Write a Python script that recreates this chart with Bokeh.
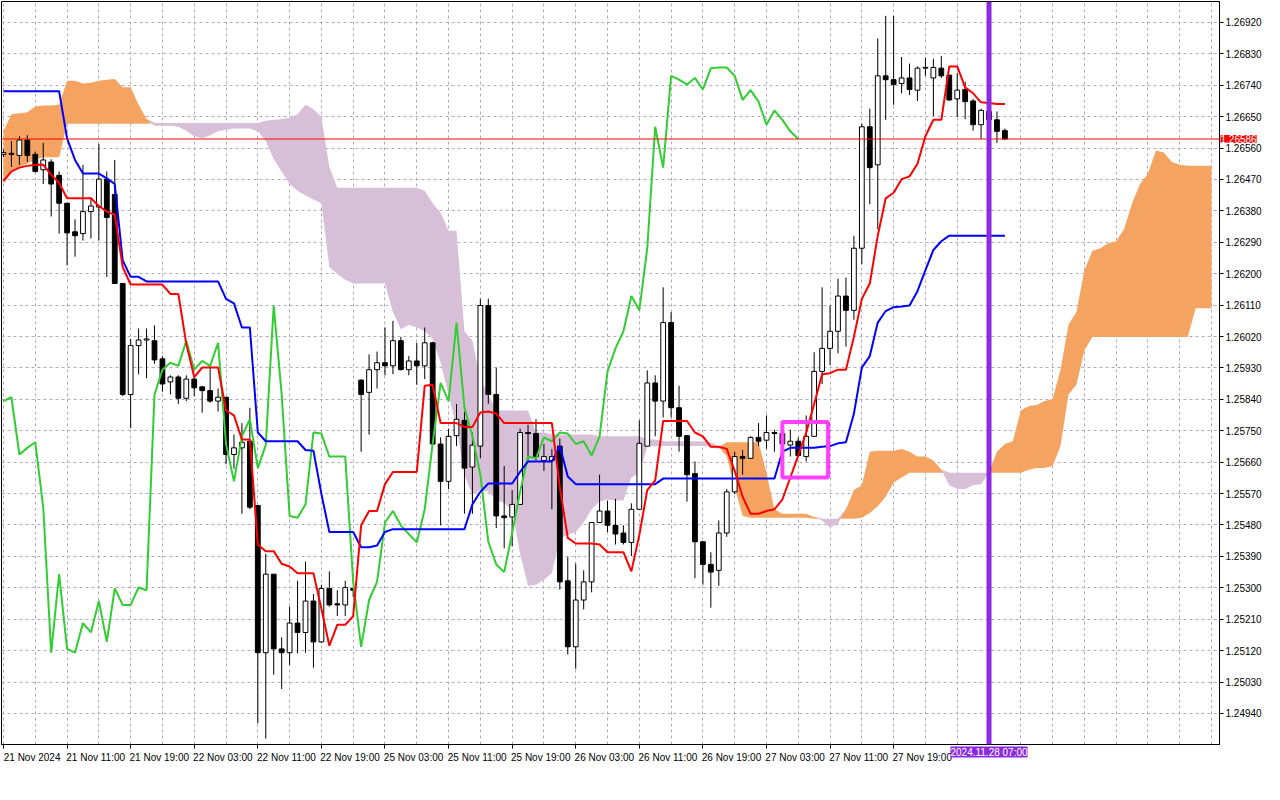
import numpy as np
from bokeh.plotting import figure
from bokeh.models import (Range1d, FixedTicker, Span, Label, BoxAnnotation,
                          ColumnDataSource, PrintfTickFormatter)
from bokeh.embed import file_html
from bokeh.resources import INLINE

# ---------------- data (H1 bars) ----------------
open_ = [
    1.26542, 1.26545, 1.26539, 1.26583, 1.26542, 1.26498, 1.26520, 1.26482, 1.26402, 1.26320,
    1.26315, 1.26378, 1.26391, 1.26471, 1.26427, 1.26172, 1.25854, 1.25994, 1.26010, 1.26008,
    1.25956, 1.25890, 1.25904, 1.25843, 1.25898, 1.25876, 1.25865, 1.25835, 1.25846, 1.25682,
    1.25701, 1.25720, 1.25536, 1.25114, 1.25339, 1.25125, 1.25114, 1.25199, 1.25172, 1.25262,
    1.25145, 1.25298, 1.25254, 1.25251, 1.25298, 1.25895, 1.25860, 1.25925, 1.25945, 1.25936,
    1.26008, 1.25925, 1.25950, 1.25936, 1.26002, 1.25712, 1.25605, 1.25736, 1.25780, 1.25646,
    1.25706, 1.26109, 1.25854, 1.25506, 1.25503, 1.25539, 1.25745, 1.25742, 1.25665, 1.25665,
    1.25706, 1.25320, 1.25131, 1.25265, 1.25317, 1.25487, 1.25520, 1.25479, 1.25457, 1.25430,
    1.25525, 1.25706, 1.25887, 1.25835, 1.26060, 1.25816, 1.25736, 1.25627, 1.25432, 1.25367,
    1.25350, 1.25457, 1.25575, 1.25676, 1.25671, 1.25731, 1.25723, 1.25745, 1.25742, 1.25709,
    1.25720, 1.25676, 1.25734, 1.25920, 1.25986, 1.26035, 1.26136, 1.26095, 1.26273, 1.26621,
    1.26512, 1.26767, 1.26756, 1.26745, 1.26761, 1.26726, 1.26789, 1.26761, 1.26789, 1.26769,
    1.26701, 1.26728, 1.26695, 1.26627, 1.26665, 1.26641, 1.26610]
high = [
    1.26556, 1.26580, 1.26594, 1.26597, 1.26550, 1.26575, 1.26528, 1.26493, 1.26402, 1.26356,
    1.26512, 1.26419, 1.26572, 1.26493, 1.26526, 1.26172, 1.26013, 1.26043, 1.26043, 1.26052,
    1.25964, 1.25909, 1.25909, 1.25909, 1.25909, 1.25876, 1.25936, 1.25871, 1.25846, 1.25739,
    1.25772, 1.25816, 1.25536, 1.25397, 1.25339, 1.25158, 1.25246, 1.25320, 1.25375, 1.25282,
    1.25309, 1.25347, 1.25293, 1.25320, 1.25301, 1.25898, 1.25969, 1.25977, 1.26046, 1.26065,
    1.26019, 1.25964, 1.26002, 1.26046, 1.26005, 1.25731, 1.25756, 1.25827, 1.25805, 1.25745,
    1.26128, 1.26128, 1.25931, 1.25649, 1.25580, 1.25756, 1.25767, 1.25783, 1.25712, 1.25698,
    1.25728, 1.25388, 1.25369, 1.25350, 1.25487, 1.25624, 1.25550, 1.25555, 1.25479, 1.25542,
    1.25780, 1.25923, 1.25909, 1.26161, 1.26090, 1.25879, 1.25736, 1.25662, 1.25432, 1.25402,
    1.25493, 1.25583, 1.25690, 1.25695, 1.25734, 1.25772, 1.25794, 1.25753, 1.25758, 1.25753,
    1.25731, 1.25794, 1.25975, 1.26161, 1.26109, 1.26186, 1.26189, 1.26309, 1.26630, 1.26673,
    1.26874, 1.26939, 1.26939, 1.26821, 1.26802, 1.26794, 1.26819, 1.26816, 1.26824, 1.26769,
    1.26775, 1.26750, 1.26701, 1.26673, 1.26673, 1.26665, 1.26616]
low = [
    1.26534, 1.26506, 1.26512, 1.26520, 1.26490, 1.26457, 1.26364, 1.26315, 1.26224, 1.26249,
    1.26295, 1.26301, 1.26295, 1.26191, 1.26172, 1.25849, 1.25758, 1.25912, 1.25901, 1.25942,
    1.25862, 1.25854, 1.25827, 1.25835, 1.25849, 1.25802, 1.25830, 1.25805, 1.25654, 1.25641,
    1.25512, 1.25525, 1.24912, 1.24868, 1.25051, 1.25010, 1.25079, 1.25112, 1.25114, 1.25071,
    1.25142, 1.25246, 1.25219, 1.25219, 1.25273, 1.25690, 1.25739, 1.25871, 1.25909, 1.25912,
    1.25923, 1.25909, 1.25882, 1.25898, 1.25709, 1.25479, 1.25583, 1.25706, 1.25512, 1.25512,
    1.25671, 1.25827, 1.25471, 1.25413, 1.25419, 1.25539, 1.25665, 1.25665, 1.25635, 1.25525,
    1.25295, 1.25109, 1.25068, 1.25238, 1.25287, 1.25487, 1.25460, 1.25424, 1.25424, 1.25391,
    1.25525, 1.25706, 1.25734, 1.25788, 1.25788, 1.25690, 1.25547, 1.25328, 1.25309, 1.25243,
    1.25306, 1.25446, 1.25569, 1.25624, 1.25671, 1.25706, 1.25698, 1.25690, 1.25704, 1.25676,
    1.25676, 1.25662, 1.25734, 1.25884, 1.25939, 1.25972, 1.25991, 1.26068, 1.26227, 1.26399,
    1.26328, 1.26641, 1.26684, 1.26717, 1.26712, 1.26695, 1.26767, 1.26652, 1.26761, 1.26695,
    1.26649, 1.26643, 1.26610, 1.26586, 1.26602, 1.26575, 1.26583]
close = [
    1.26547, 1.26542, 1.26583, 1.26539, 1.26493, 1.26526, 1.26457, 1.26402, 1.26317, 1.26309,
    1.26378, 1.26394, 1.26471, 1.26361, 1.26172, 1.25854, 1.25994, 1.26010, 1.26013, 1.25953,
    1.25884, 1.25904, 1.25843, 1.25898, 1.25873, 1.25865, 1.25835, 1.25846, 1.25682, 1.25701,
    1.25717, 1.25531, 1.25114, 1.25339, 1.25125, 1.25114, 1.25199, 1.25172, 1.25262, 1.25145,
    1.25298, 1.25251, 1.25251, 1.25301, 1.25293, 1.25854, 1.25925, 1.25945, 1.25936, 1.26008,
    1.25925, 1.25950, 1.25936, 1.26002, 1.25712, 1.25605, 1.25734, 1.25783, 1.25643, 1.25709,
    1.26109, 1.25854, 1.25506, 1.25501, 1.25539, 1.25745, 1.25742, 1.25676, 1.25676, 1.25676,
    1.25317, 1.25131, 1.25265, 1.25317, 1.25487, 1.25520, 1.25479, 1.25454, 1.25430, 1.25525,
    1.25714, 1.25887, 1.25835, 1.26060, 1.25816, 1.25734, 1.25624, 1.25432, 1.25367, 1.25345,
    1.25457, 1.25575, 1.25676, 1.25671, 1.25731, 1.25720, 1.25745, 1.25742, 1.25712, 1.25720,
    1.25679, 1.25734, 1.25920, 1.25986, 1.26035, 1.26136, 1.26095, 1.26273, 1.26621, 1.26504,
    1.26767, 1.26756, 1.26742, 1.26761, 1.26728, 1.26789, 1.26791, 1.26791, 1.26767, 1.26698,
    1.26726, 1.26693, 1.26627, 1.26668, 1.26641, 1.26608, 1.26586]

tenkan = [
    1.26465, 1.26493, 1.26504, 1.26509, 1.26512, 1.26512, 1.26484, 1.26460, 1.26416, 1.26416,
    1.26416, 1.26416, 1.26394, 1.26378, 1.26369, 1.26219, 1.26169, 1.26169, 1.26169, 1.26169,
    1.26169, 1.26142, 1.26142, 1.25999, 1.25904, 1.25931, 1.25931, 1.25931, 1.25808, 1.25794,
    1.25725, 1.25725, 1.25424, 1.25405, 1.25405, 1.25369, 1.25361, 1.25342, 1.25342, 1.25342,
    1.25240, 1.25134, 1.25194, 1.25194, 1.25219, 1.25479, 1.25520, 1.25520, 1.25597, 1.25632,
    1.25632, 1.25632, 1.25632, 1.25879, 1.25882, 1.25772, 1.25772, 1.25772, 1.25761, 1.25761,
    1.25802, 1.25805, 1.25799, 1.25772, 1.25772, 1.25772, 1.25772, 1.25772, 1.25772, 1.25772,
    1.25588, 1.25443, 1.25427, 1.25427, 1.25427, 1.25424, 1.25402, 1.25402, 1.25402, 1.25347,
    1.25451, 1.25580, 1.25608, 1.25778, 1.25778, 1.25778, 1.25778, 1.25745, 1.25734, 1.25704,
    1.25704, 1.25698, 1.25635, 1.25561, 1.25512, 1.25512, 1.25520, 1.25525, 1.25553, 1.25616,
    1.25679, 1.25745, 1.25827, 1.25912, 1.25915, 1.25925, 1.25925, 1.26019, 1.26128, 1.26172,
    1.26309, 1.26416, 1.26432, 1.26471, 1.26479, 1.26515, 1.26594, 1.26641, 1.26641, 1.26794,
    1.26794, 1.26734, 1.26717, 1.26691, 1.26689, 1.26686, 1.26686]
kijun = [
    1.26723, 1.26723, 1.26723, 1.26723, 1.26723, 1.26723, 1.26723, 1.26723, 1.26588, 1.26526,
    1.26487, 1.26487, 1.26487, 1.26473, 1.26457, 1.26238, 1.26191, 1.26191, 1.26178, 1.26178,
    1.26178, 1.26178, 1.26178, 1.26178, 1.26178, 1.26178, 1.26178, 1.26178, 1.26128, 1.26115,
    1.26046, 1.26046, 1.25745, 1.25720, 1.25720, 1.25720, 1.25720, 1.25720, 1.25695, 1.25693,
    1.25569, 1.25460, 1.25460, 1.25460, 1.25460, 1.25416, 1.25416, 1.25421, 1.25460, 1.25468,
    1.25468, 1.25468, 1.25468, 1.25468, 1.25468, 1.25468, 1.25468, 1.25468, 1.25468, 1.25539,
    1.25575, 1.25599, 1.25599, 1.25599, 1.25599, 1.25632, 1.25662, 1.25662, 1.25662, 1.25662,
    1.25706, 1.25619, 1.25597, 1.25597, 1.25597, 1.25597, 1.25597, 1.25597, 1.25597, 1.25597,
    1.25597, 1.25597, 1.25597, 1.25613, 1.25613, 1.25613, 1.25613, 1.25613, 1.25613, 1.25613,
    1.25613, 1.25613, 1.25613, 1.25613, 1.25613, 1.25613, 1.25613, 1.25613, 1.25690, 1.25701,
    1.25701, 1.25701, 1.25701, 1.25704, 1.25706, 1.25714, 1.25717, 1.25799, 1.25931, 1.25964,
    1.26060, 1.26093, 1.26104, 1.26106, 1.26109, 1.26150, 1.26210, 1.26268, 1.26293, 1.26309,
    1.26309, 1.26309, 1.26309, 1.26309, 1.26309, 1.26309, 1.26309]
chikou = [
    1.25835, 1.25846, 1.25682, 1.25701, 1.25717, 1.25531, 1.25114, 1.25339, 1.25125, 1.25114,
    1.25199, 1.25172, 1.25262, 1.25145, 1.25298, 1.25251, 1.25251, 1.25301, 1.25293, 1.25854,
    1.25925, 1.25945, 1.25936, 1.26008, 1.25925, 1.25950, 1.25936, 1.26002, 1.25712, 1.25605,
    1.25734, 1.25783, 1.25643, 1.25709, 1.26109, 1.25854, 1.25506, 1.25501, 1.25539, 1.25745,
    1.25742, 1.25676, 1.25676, 1.25676, 1.25317, 1.25131, 1.25265, 1.25317, 1.25487, 1.25520,
    1.25479, 1.25454, 1.25430, 1.25525, 1.25714, 1.25887, 1.25835, 1.26060, 1.25816, 1.25734,
    1.25624, 1.25432, 1.25367, 1.25345, 1.25457, 1.25575, 1.25676, 1.25671, 1.25731, 1.25720,
    1.25745, 1.25742, 1.25712, 1.25720, 1.25679, 1.25734, 1.25920, 1.25986, 1.26035, 1.26136,
    1.26095, 1.26273, 1.26621, 1.26504, 1.26767, 1.26756, 1.26742, 1.26761, 1.26728, 1.26789,
    1.26791, 1.26791, 1.26767, 1.26698, 1.26726, 1.26693, 1.26627, 1.26668, 1.26641, 1.26608,
    1.26586]
span_a = [
    1.26610, 1.26657, 1.26660, 1.26663, 1.26679, 1.26682, 1.26682, 1.26684, 1.26753, 1.26753,
    1.26745, 1.26747, 1.26753, 1.26756, 1.26758, 1.26734, 1.26734, 1.26684, 1.26643, 1.26624,
    1.26624, 1.26624, 1.26621, 1.26610, 1.26594, 1.26588, 1.26597, 1.26608, 1.26613, 1.26616,
    1.26616, 1.26616, 1.26608, 1.26580, 1.26528, 1.26493, 1.26457, 1.26438, 1.26424, 1.26413,
    1.26402, 1.26219, 1.26199, 1.26183, 1.26172, 1.26172, 1.26172, 1.26172, 1.26172, 1.26090,
    1.26041, 1.26054, 1.26046, 1.26035, 1.26013, 1.25945, 1.25854, 1.25761, 1.25624, 1.25566,
    1.25580, 1.25575, 1.25553, 1.25542, 1.25525, 1.25397, 1.25306, 1.25309, 1.25323, 1.25342,
    1.25443, 1.25451, 1.25460, 1.25487, 1.25525, 1.25547, 1.25553, 1.25550, 1.25550, 1.25616,
    1.25630, 1.25704, 1.25706, 1.25706, 1.25706, 1.25706, 1.25706, 1.25706, 1.25706, 1.25704,
    1.25698, 1.25717, 1.25717, 1.25717, 1.25717, 1.25717, 1.25630, 1.25525, 1.25512, 1.25512,
    1.25512, 1.25512, 1.25503, 1.25493, 1.25473, 1.25484, 1.25525, 1.25580, 1.25594, 1.25690,
    1.25693, 1.25693, 1.25693, 1.25698, 1.25690, 1.25676, 1.25676, 1.25665, 1.25638, 1.25594,
    1.25583, 1.25583, 1.25594, 1.25597, 1.25630, 1.25690, 1.25712, 1.25720, 1.25808, 1.25821,
    1.25824, 1.25835, 1.25841, 1.25925, 1.26054, 1.26090, 1.26210, 1.26265, 1.26273, 1.26287,
    1.26293, 1.26328, 1.26402, 1.26457, 1.26487, 1.26553, 1.26547, 1.26520, 1.26512, 1.26509,
    1.26509, 1.26509, 1.26509]
span_b = [
    1.26457, 1.26498, 1.26506, 1.26515, 1.26528, 1.26534, 1.26534, 1.26534, 1.26630, 1.26630,
    1.26630, 1.26630, 1.26630, 1.26630, 1.26630, 1.26630, 1.26630, 1.26630, 1.26630, 1.26632,
    1.26632, 1.26632, 1.26632, 1.26632, 1.26632, 1.26632, 1.26632, 1.26632, 1.26632, 1.26632,
    1.26632, 1.26632, 1.26632, 1.26638, 1.26641, 1.26643, 1.26646, 1.26657, 1.26684, 1.26671,
    1.26649, 1.26506, 1.26446, 1.26446, 1.26446, 1.26446, 1.26446, 1.26446, 1.26446, 1.26446,
    1.26446, 1.26446, 1.26446, 1.26438, 1.26402, 1.26375, 1.26323, 1.26323, 1.26035, 1.26008,
    1.25898, 1.25854, 1.25808, 1.25808, 1.25808, 1.25808, 1.25808, 1.25745, 1.25745, 1.25739,
    1.25739, 1.25739, 1.25739, 1.25739, 1.25739, 1.25734, 1.25734, 1.25734, 1.25734, 1.25734,
    1.25734, 1.25725, 1.25725, 1.25720, 1.25720, 1.25720, 1.25720, 1.25720, 1.25720, 1.25717,
    1.25704, 1.25676, 1.25588, 1.25506, 1.25501, 1.25501, 1.25501, 1.25501, 1.25501, 1.25501,
    1.25501, 1.25501, 1.25498, 1.25498, 1.25498, 1.25498, 1.25498, 1.25498, 1.25501, 1.25514,
    1.25534, 1.25561, 1.25602, 1.25616, 1.25630, 1.25630, 1.25630, 1.25630, 1.25630, 1.25630,
    1.25630, 1.25630, 1.25630, 1.25630, 1.25630, 1.25630, 1.25630, 1.25630, 1.25630, 1.25638,
    1.25643, 1.25643, 1.25649, 1.25706, 1.25854, 1.25882, 1.25980, 1.26019, 1.26019, 1.26019,
    1.26019, 1.26019, 1.26019, 1.26019, 1.26019, 1.26019, 1.26019, 1.26019, 1.26019, 1.26019,
    1.26101, 1.26101, 1.26101]

tick_positions = [0, 8, 16, 24, 32, 40, 48, 56, 64, 72, 80, 88, 96, 104, 112]
tick_labels = ["21 Nov 2024", "21 Nov 11:00", "21 Nov 19:00", "22 Nov 03:00", "22 Nov 11:00",
               "22 Nov 19:00", "25 Nov 03:00", "25 Nov 11:00", "25 Nov 19:00", "26 Nov 03:00",
               "26 Nov 11:00", "26 Nov 19:00", "27 Nov 03:00", "27 Nov 11:00", "27 Nov 19:00"]
price_ticks = [1.24940, 1.25030, 1.25120, 1.25210, 1.25300, 1.25390, 1.25480, 1.25570,
               1.25660, 1.25750, 1.25840, 1.25930, 1.26020, 1.26110, 1.26200, 1.26290,
               1.26380, 1.26470, 1.26560, 1.26650, 1.26740, 1.26830, 1.26920]
vline_bar = 124
vline_label = "2024.11.28 07:00"
box_bars = (98.0, 103.75)
box_prices = (1.25616, 1.25775)

assert len(open_) == len(high) == len(low) == len(close) == len(tenkan) == len(kijun) == 127
assert len(chikou) == 101 and len(span_a) == len(span_b) == 153

# ---------------- figure ----------------
FONT = "Liberation Sans"
FS = "10px"
X0, X1 = -0.25, 153.0
Y0, Y1 = 1.24851, 1.26980
p = figure(width=1264, height=784, output_backend="svg", toolbar_location=None,
           x_range=Range1d(X0, X1), y_range=Range1d(Y0, Y1),
           y_axis_location="right", background_fill_color="white",
           border_fill_color="white", min_border_left=1, min_border_top=1,
           min_border_bottom=0, min_border_right=0)
p.outline_line_color = "black"
p.outline_line_width = 1

# grid
p.xgrid.ticker = FixedTicker(ticks=list(range(0, 153, 4)))
p.ygrid.ticker = FixedTicker(ticks=price_ticks)
for g in (p.xgrid, p.ygrid):
    g.grid_line_color = "#B4A6C4"
    g.grid_line_dash = "3 3"
    g.grid_line_width = 1

# x axis: labels sit to the right of the bar they name (MT4 style);
# small marks at the bars themselves come from the minor ticks
label_offset = 3.6
lab_pos = [t + label_offset for t in tick_positions]
xa = p.xaxis[0]
xa.ticker = FixedTicker(ticks=lab_pos, minor_ticks=tick_positions)
xa.major_label_overrides = {t: s for t, s in zip(lab_pos, tick_labels)}
xa.axis_line_color = "black"
xa.major_tick_line_color = None
xa.major_tick_in = 0
xa.major_tick_out = 0
xa.minor_tick_line_color = "black"
xa.minor_tick_in = 0
xa.minor_tick_out = 4
xa.major_label_standoff = 3
xa.major_label_text_font = FONT
xa.major_label_text_font_size = FS
xa.major_label_text_color = "black"

ya = p.yaxis[0]
ya.ticker = FixedTicker(ticks=price_ticks)
ya.formatter = PrintfTickFormatter(format="%.5f")
ya.axis_line_color = "black"
ya.major_tick_line_color = "black"
ya.major_tick_in = 0
ya.major_tick_out = 4
ya.minor_tick_line_color = None
ya.major_label_text_font = FONT
ya.major_label_text_font_size = FS
ya.major_label_text_color = "black"
ya.major_label_standoff = 2

# ---------------- cloud ----------------
cx = np.arange(len(span_a))
sa = np.array(span_a)
sb = np.array(span_b)
top = np.maximum(sa, sb)
p.varea(x=cx, y1=sb, y2=top, fill_color="#F4A460", fill_alpha=1.0)
p.varea(x=cx, y1=sa, y2=top, fill_color="#D8BFD8", fill_alpha=1.0)

# ---------------- candles ----------------
idx = np.arange(len(close))
o = np.array(open_); h = np.array(high); l = np.array(low); c = np.array(close)
up = c >= o
src = ColumnDataSource(dict(x=idx, o=o, h=h, l=l, c=c))
p.segment(x0="x", y0="l", x1="x", y1="h", source=src, line_color="black", line_width=1)
up_src = ColumnDataSource(dict(x=idx[up], o=o[up], c=c[up]))
dn_src = ColumnDataSource(dict(x=idx[~up], o=o[~up], c=c[~up]))
p.vbar(x="x", width=0.6, top="c", bottom="o", source=up_src,
       fill_color="white", line_color="black", line_width=1)
p.vbar(x="x", width=0.6, top="o", bottom="c", source=dn_src,
       fill_color="black", line_color="black", line_width=1)

# ---------------- ichimoku lines ----------------
p.line(np.arange(len(chikou)), chikou, line_color="#32CD32", line_width=2)
p.line(idx, kijun, line_color="#0000FF", line_width=2)
p.line(idx, tenkan, line_color="#FF0000", line_width=2)

# ---------------- annotations ----------------
p.add_layout(Span(location=close[-1], dimension="width", line_color="#FF0000", line_width=1))
p.add_layout(Span(location=vline_bar, dimension="height", line_color="#8A2BE2", line_width=5))
p.add_layout(BoxAnnotation(left=box_bars[0], right=box_bars[1], bottom=box_prices[0],
                           top=box_prices[1], fill_color=None, fill_alpha=0,
                           line_color="#FF40FF", line_alpha=1.0, line_width=4))

price_tag = Label(x=X1, y=close[-1], x_offset=1, text=f"{close[-1]:.5f}",
                  text_font=FONT, text_font_size=FS, text_color="white",
                  text_align="left", text_baseline="middle",
                  background_fill_color="#FF0000", padding=0)
time_tag = Label(x=vline_bar, y=Y0, y_offset=-2, text=vline_label,
                 text_font=FONT, text_font_size=FS, text_color="white",
                 text_align="center", text_baseline="top",
                 background_fill_color="#8A2BE2", padding=0)
# side-panel placement keeps these tags from being clipped to the frame;
# they are still positioned by the plot's data scales
p.add_layout(price_tag, "below")
p.add_layout(time_tag, "below")

open("out.html", "w").write(file_html(p, INLINE))
